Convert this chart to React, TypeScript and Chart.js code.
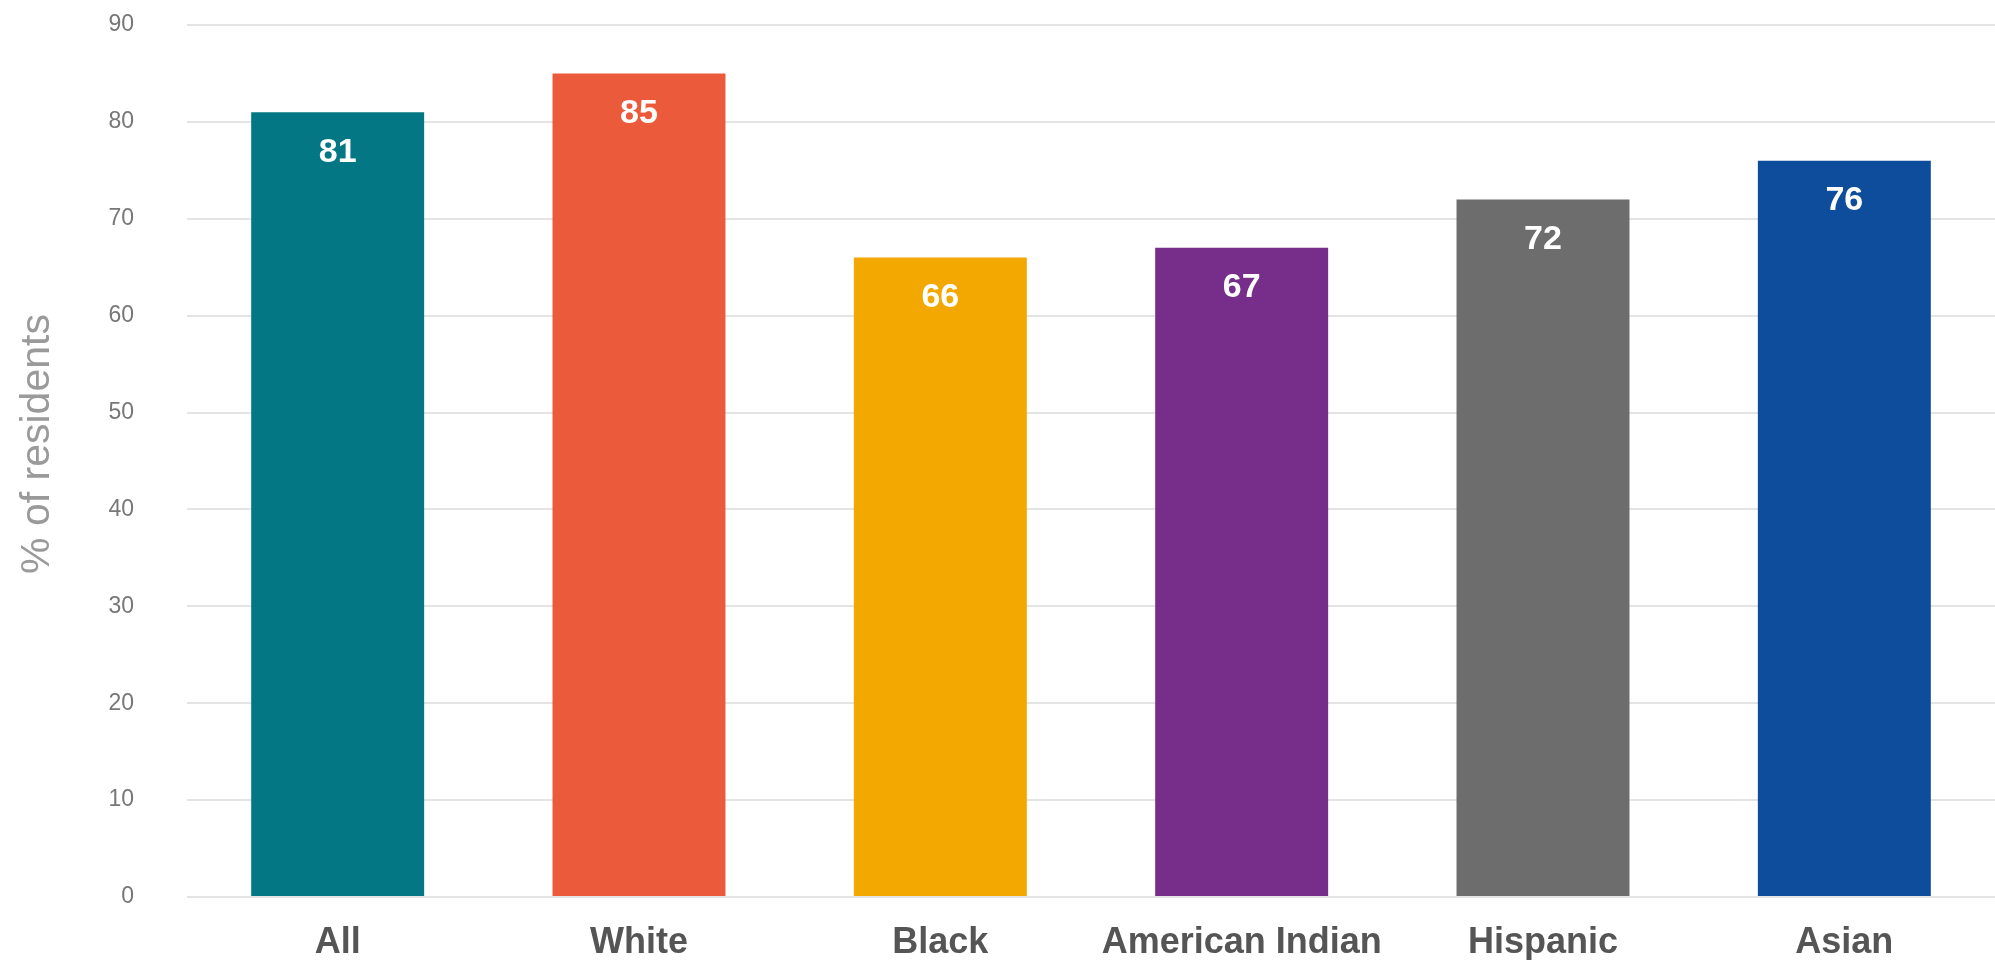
import React, { useEffect, useRef } from "react";
import { Chart, registerables } from "chart.js";

Chart.register(...registerables);

const categories = ["All", "White", "Black", "American Indian", "Hispanic", "Asian"];
const values = [81, 85, 66, 67, 72, 76];
const barColors = ["#037884", "#EC5A3C", "#F2A800", "#762E8A", "#6D6D6D", "#0E4D9C"];
const yTicks = [0, 10, 20, 30, 40, 50, 60, 70, 80, 90];
const yTitle = "% of residents";

const valueLabelPlugin = {
  id: "valueLabels",
  afterDatasetsDraw(chart: any) {
    const ctx = chart.ctx;
    const meta = chart.getDatasetMeta(0);
    ctx.save();
    ctx.fillStyle = "#ffffff";
    ctx.font = "bold 34px 'Liberation Sans', Arial, sans-serif";
    ctx.textAlign = "center";
    ctx.textBaseline = "middle";
    meta.data.forEach((bar: any, i: number) => {
      ctx.fillText(String(values[i]), bar.x, bar.y + 40);
    });
    ctx.restore();
  },
};

const yTitlePlugin = {
  id: "yTitle",
  afterDraw(chart: any) {
    const ctx = chart.ctx;
    ctx.save();
    ctx.translate(38, 444);
    ctx.rotate(-Math.PI / 2);
    ctx.fillStyle = "#9a9a9a";
    ctx.font = "41px 'Liberation Sans', Arial, sans-serif";
    ctx.textAlign = "center";
    ctx.textBaseline = "middle";
    ctx.fillText(yTitle, 0, 0);
    ctx.restore();
  },
};

export default function App() {
  const ref = useRef<HTMLCanvasElement | null>(null);
  useEffect(() => {
    if (!ref.current) return;
    const chart = new Chart(ref.current, {
      type: "bar",
      data: {
        labels: categories,
        datasets: [
          {
            data: values,
            backgroundColor: barColors,
            borderWidth: 0,
            categoryPercentage: 1,
            barPercentage: 0.574,
          },
        ],
      },
      options: {
        animation: false,
        responsive: true,
        maintainAspectRatio: false,
        layout: { padding: { top: 25, left: 0, right: 0, bottom: 0 } },
        plugins: {
          legend: { display: false },
          tooltip: { enabled: false },
        },
        scales: {
          x: {
            grid: { display: false, drawTicks: false },
            border: { display: false },
            ticks: {
              color: "#555555",
              padding: 24,
              font: { family: "'Liberation Sans', Arial, sans-serif", size: 36, weight: "bold" },
            },
            afterFit(scale: any) {
              scale.height = 63;
            },
          },
          y: {
            min: 0,
            max: 90,
            afterBuildTicks(scale: any) {
              scale.ticks = yTicks.map((v) => ({ value: v }));
            },
            grid: {
              color: "#e4e4e4",
              lineWidth: 2,
              drawTicks: true,
              tickLength: 53,
              tickColor: "rgba(0,0,0,0)",
            },
            border: { display: false },
            ticks: {
              color: "#777777",
              padding: 0,
              font: { family: "'Liberation Sans', Arial, sans-serif", size: 23 },
            },
            afterFit(scale: any) {
              scale.width = 187;
            },
          },
        },
      },
      plugins: [valueLabelPlugin, yTitlePlugin],
    });
    return () => chart.destroy();
  }, []);
  return (
    <div style={{ position: "absolute", left: 0, top: 0, width: 1995, height: 960, background: "#ffffff" }}>
      <canvas ref={ref} />
    </div>
  );
}
